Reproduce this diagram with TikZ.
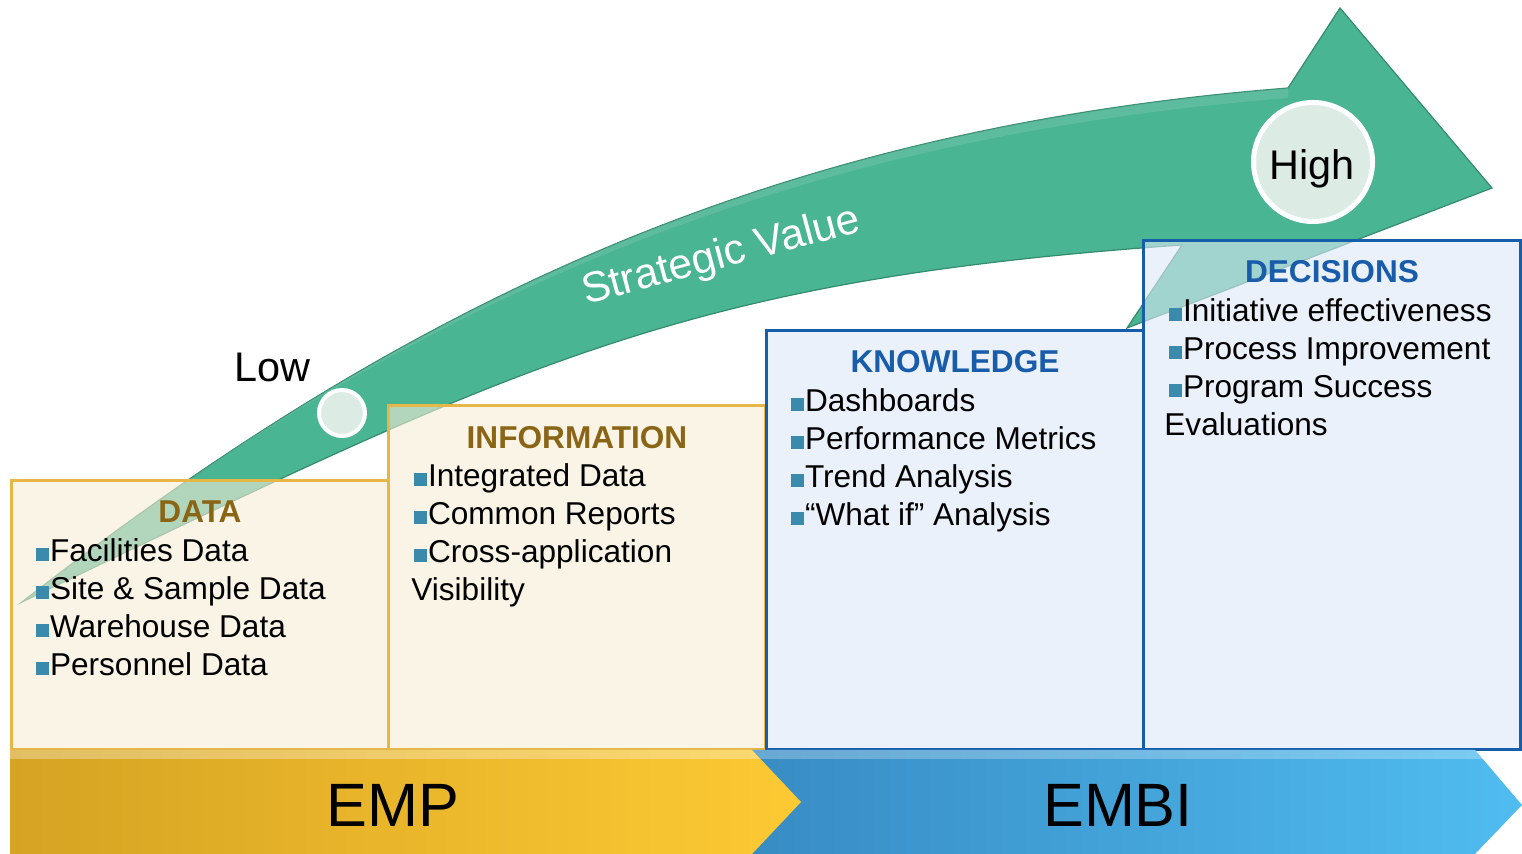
\documentclass[tikz,border=0pt]{standalone}
\usepackage{fontspec}
\setmainfont{Liberation Sans}
\definecolor{arrowgreen}{RGB}{74,181,146}
\definecolor{arrowedge}{RGB}{52,140,110}
\definecolor{circfill}{RGB}{220,236,229}
\definecolor{goldline}{RGB}{230,183,70}
\definecolor{goldfill}{RGB}{248,237,215}
\definecolor{blueline}{RGB}{22,94,170}
\definecolor{bluefill}{RGB}{220,233,247}
\definecolor{brownhead}{RGB}{138,101,22}
\definecolor{bluehead}{RGB}{24,92,170}
\definecolor{bulcol}{RGB}{58,138,172}
\definecolor{empL}{RGB}{214,163,35}
\definecolor{empR}{RGB}{253,202,52}
\definecolor{embiL}{RGB}{56,140,196}
\definecolor{embiR}{RGB}{80,188,240}
\newcommand{\bulsq}{\textcolor{bulcol}{\rule[0.6pt]{6.5pt}{6.5pt}}\hspace{0.3pt}}
\begin{document}
\begin{tikzpicture}[x=0.5pt,y=-0.5pt,
  item/.style={anchor=base west, inner sep=0pt, font=\fontsize{15.8}{19}\selectfont},
  headtxt/.style={anchor=base, inner sep=0pt, font=\fontsize{15.8}{19}\selectfont\bfseries},
  goldbox/.style={draw=goldline, line width=1.5pt, fill=goldfill, fill opacity=0.6},
  bluebox/.style={draw=blueline, line width=1.5pt, fill=bluefill, fill opacity=0.6},
  dot/.style={circle, draw=white, fill=circfill, inner sep=0pt},
  bigtxt/.style={anchor=base, inner sep=0pt, font=\fontsize{30.6}{36}\selectfont},
  midtxt/.style={anchor=base, inner sep=0pt, font=\fontsize{20.7}{25}\selectfont}]
\useasboundingbox (0,0) rectangle (1522,854);
\fill[white] (0,0) rectangle (1522,854);

% big green arrow
\fill[arrowgreen, draw=arrowedge, line width=0.6pt]
  (22,602) .. controls (422,290) and (788,128) .. (1288,88)
  -- (1340,8) -- (1492,188) -- (1127,328) -- (1182,245)
  .. controls (682,280) and (522,362) .. (22,602) -- cycle;
\fill[white, opacity=0.1]
  (60,572) .. controls (430,294) and (790,138) .. (1288,98)
  -- (1288,88) .. controls (788,128) and (422,290) .. (22,602) -- cycle;
\node[white, midtxt, rotate=15, font=\fontsize{21.3}{25}\selectfont] (sv) at (724,268) {Strategic Value};

% circles
\node[dot, line width=2pt, minimum size=23pt] (lowdot) at (342,413) {};
\node[dot, line width=2.5pt, minimum size=59.5pt] (highdot) at (1313,162) {};
\node[midtxt] (low) at (272,382) {Low};
\node[midtxt] (high) at (1312,180) {High};

% boxes
\draw[goldbox] (11,481) rectangle (388,750);
\draw[goldbox] (388,406) rectangle (765,750);
\draw[bluebox] (766,331) rectangle (1143,750);
\draw[bluebox] (1143,241) rectangle (1520,750);

% DATA
\node[headtxt, text=brownhead] (hdata) at (200,523) {DATA};
\node[item] (d1) at (36,562) {\bulsq Facilities Data};
\node[item] (d2) at (36,600) {\bulsq Site \& Sample Data};
\node[item] (d3) at (36,638) {\bulsq Warehouse Data};
\node[item] (d4) at (36,676) {\bulsq Personnel Data};

% INFORMATION
\node[headtxt, text=brownhead] (hinfo) at (577,449) {INFORMATION};
\node[item] (i1) at (414,487) {\bulsq Integrated Data};
\node[item] (i2) at (414,525) {\bulsq Common Reports};
\node[item] (i3) at (414,563) {\bulsq Cross-application};
\node[item] (i4) at (411,601) {Visibility};

% KNOWLEDGE
\node[headtxt, text=bluehead] (hknow) at (955,373) {KNOWLEDGE};
\node[item] (k1) at (791,412) {\bulsq Dashboards};
\node[item] (k2) at (791,450) {\bulsq Performance Metrics};
\node[item] (k3) at (791,488) {\bulsq Trend Analysis};
\node[item] (k4) at (791,526) {\bulsq “What if” Analysis};

% DECISIONS
\node[headtxt, text=bluehead] (hdec) at (1332,283) {DECISIONS};
\node[item] (c1) at (1169,322) {\bulsq Initiative effectiveness};
\node[item] (c2) at (1169,360) {\bulsq Process Improvement};
\node[item] (c3) at (1169,398) {\bulsq Program Success};
\node[item] (c4) at (1164,436) {Evaluations};

% bottom arrows
\path[left color=embiL, right color=embiR]
  (752,750) -- (1475,750) -- (1522,805) -- (1475,854) -- (752,854) -- cycle;
\fill[white, opacity=0.25] (752,750) -- (1475,750) -- (1483,759) -- (752,759) -- cycle;
\path[left color=empL, right color=empR]
  (10,750) -- (752,750) -- (801,802) -- (752,854) -- (10,854) -- cycle;
\fill[white, opacity=0.3] (10,750) -- (752,750) -- (760,759) -- (10,759) -- cycle;
\node[bigtxt] (emp) at (393,827) {EMP};
\node[bigtxt] (embi) at (1118,827) {EMBI};
\end{tikzpicture}
\end{document}
